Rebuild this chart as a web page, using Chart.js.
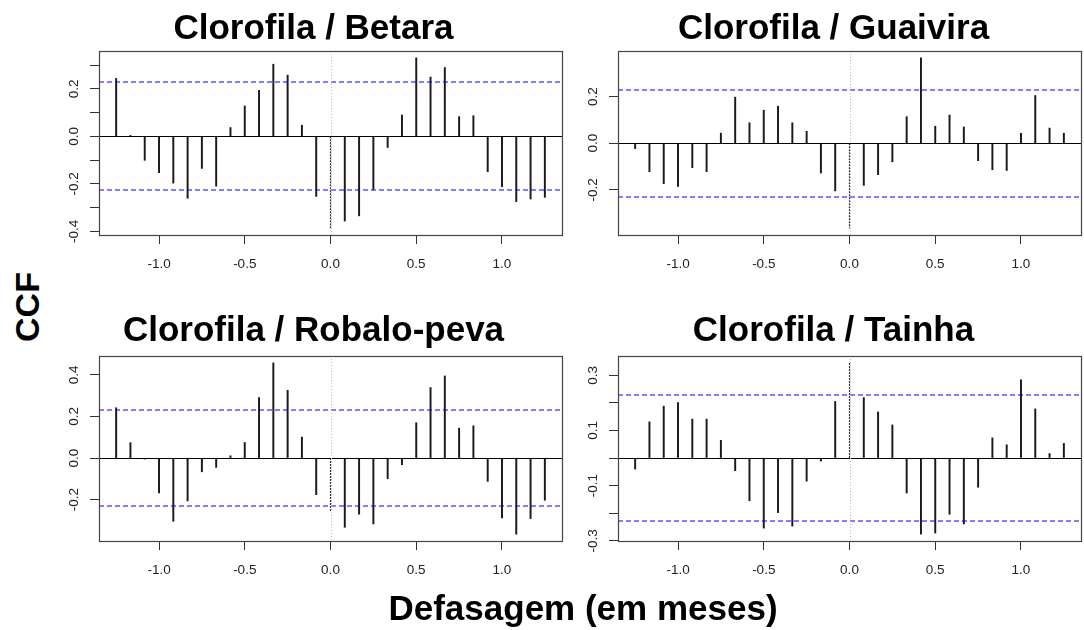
<!DOCTYPE html>
<html>
<head>
<meta charset="utf-8">
<script src="https://cdn.jsdelivr.net/npm/chart.js@4.4.1/dist/chart.umd.min.js"></script>
<style>
  body { margin: 0; background: #fff; width: 1084px; height: 630px; position: relative; overflow: hidden;
         font-family: "Liberation Sans", Arial, sans-serif; }
  canvas { position: absolute; }
  .axlab { position: absolute; font-weight: bold; font-size: 34px; color: #000; white-space: nowrap; }
  #ylab { left: 27px; top: 307px; transform: translate(-50%, -50%) rotate(-90deg); }
  #xlab { left: 583px; top: 608px; transform: translate(-50%, -50%); font-size: 35px; }
</style>
</head>
<body>
<canvas id="betaraChart" width="500" height="290" style="left:65px;top:0px"></canvas>
<canvas id="guaiviraChart" width="498" height="290" style="left:586px;top:0px"></canvas>
<canvas id="robaloChart" width="500" height="290" style="left:65px;top:302px"></canvas>
<canvas id="tainhaChart" width="498" height="290" style="left:586px;top:302px"></canvas>
<div id="ylab" class="axlab">CCF</div>
<div id="xlab" class="axlab">Defasagem (em meses)</div>
<script>
// lag in months, plotted in years (lag / 12)
const lagMonths = [-15, -14, -13, -12, -11, -10, -9, -8, -7, -6, -5, -4, -3, -2, -1, 0,
                   1, 2, 3, 4, 5, 6, 7, 8, 9, 10, 11, 12, 13, 14, 15];

const betara = [0.244, 0.004, -0.101, -0.153, -0.197, -0.261, -0.135, -0.210, 0.037, 0.128, 0.194, 0.304, 0.258, 0.047, -0.253, -0.387,
                -0.357, -0.335, -0.224, -0.047, 0.090, 0.331, 0.250, 0.290, 0.083, 0.087, -0.149, -0.212, -0.275, -0.264, -0.257];
const guaivira = [-0.023, -0.122, -0.174, -0.186, -0.105, -0.122, 0.043, 0.198, 0.088, 0.142, 0.159, 0.088, 0.051, -0.128, -0.205, -0.365,
                  -0.181, -0.135, -0.080, 0.114, 0.367, 0.073, 0.121, 0.070, -0.075, -0.114, -0.117, 0.043, 0.205, 0.065, 0.043];
const robalo = [0.242, 0.074, -0.005, -0.168, -0.304, -0.206, -0.066, -0.045, 0.011, 0.075, 0.291, 0.458, 0.326, 0.101, -0.176, -0.256,
                -0.333, -0.270, -0.317, -0.099, -0.032, 0.170, 0.339, 0.395, 0.144, 0.155, -0.112, -0.288, -0.366, -0.291, -0.203];
const tainha = [-0.040, 0.131, 0.188, 0.201, 0.141, 0.141, 0.064, -0.046, -0.155, -0.254, -0.198, -0.247, -0.084, -0.011, 0.205, 0.345,
                0.219, 0.167, 0.120, -0.127, -0.276, -0.272, -0.204, -0.239, -0.106, 0.073, 0.048, 0.283, 0.178, 0.016, 0.053];

// confidence bounds (blue dashed)
const ciBetara = 0.228;
const ciGuaivira = 0.230;
const ciRobalo = 0.229;
const ciTainha = 0.230;

const xTicks = [-1, -0.5, 0, 0.5, 1];
const xTickLabels = ['-1.0', '-0.5', '0.0', '0.5', '1.0'];

const betaraYTicks = [-0.4, -0.3, -0.2, -0.1, 0, 0.1, 0.2, 0.3];
const betaraYLabels = ['-0.4', '', '-0.2', '', '0.0', '', '0.2', ''];
const guaiviraYTicks = [-0.2, 0, 0.2];
const guaiviraYLabels = ['-0.2', '0.0', '0.2'];
const robaloYTicks = [-0.2, 0, 0.2, 0.4];
const robaloYLabels = ['-0.2', '0.0', '0.2', '0.4'];
const tainhaYTicks = [-0.3, -0.2, -0.1, 0, 0.1, 0.2, 0.3];
const tainhaYLabels = ['-0.3', '', '-0.1', '', '0.1', '', '0.3'];

const FONT = '"Liberation Sans", Arial, sans-serif';

// R-style range: data and bounds, widened 4%
function rRange(vals) {
    const lo = Math.min(...vals), hi = Math.max(...vals);
    const d = (hi - lo) * 0.04;
    return [lo - d, hi + d];
}

const ccfDecor = {
    id: 'ccfDecor',
    afterDatasetsDraw(chart, args, opts) {
        const { ctx, chartArea: a, scales: { x, y } } = chart;
        ctx.save();
        ctx.lineWidth = 1;
        // zero line
        ctx.strokeStyle = '#000000';
        ctx.setLineDash([]);
        const y0 = Math.round(y.getPixelForValue(0)) + 0.5;
        ctx.beginPath(); ctx.moveTo(a.left, y0); ctx.lineTo(a.right, y0); ctx.stroke();
        // confidence bounds
        ctx.strokeStyle = '#0000ff';
        ctx.lineWidth = 1.2;
        ctx.setLineDash([5, 3]);
        ctx.beginPath();
        [opts.ci, -opts.ci].forEach(c => {
            const yc = Math.round(y.getPixelForValue(c));
            ctx.moveTo(a.left, yc); ctx.lineTo(a.right, yc);
        });
        ctx.stroke();
        // dotted line at lag 0
        ctx.beginPath();
        ctx.lineWidth = 1;
        ctx.strokeStyle = '#bdbdbd';
        ctx.setLineDash([1, 2]);
        const x0 = Math.round(x.getPixelForValue(0)) + 0.5;
        ctx.moveTo(x0, a.top); ctx.lineTo(x0, a.bottom); ctx.stroke();
        // box
        ctx.setLineDash([]);
        ctx.strokeStyle = '#444444';
        ctx.lineWidth = 1.2;
        ctx.strokeRect(Math.round(a.left) + 0.5, Math.round(a.top) + 0.5,
                       Math.round(a.right - a.left), Math.round(a.bottom - a.top));
        ctx.restore();
    }
};

function makeCcf(id, title, vals, ci, yTicks, yLabels, yWidth, row) {
    const xs = lagMonths.map(m => m / 12);
    const xr = rRange(xs);
    const yr = rRange(vals.concat([ci, -ci]));
    const i0 = lagMonths.indexOf(0);
    const bars = [];
    lagMonths.forEach((m, i) => { if (m !== 0) bars.push({ x: m / 12, y: vals[i] }); });

    return new Chart(document.getElementById(id).getContext('2d'), {
        type: 'bar',
        data: {
            datasets: [
            {
                data: bars,
                backgroundColor: '#1a1a1a',
                barThickness: 1.3,
                borderWidth: 0
            },
            {
                type: 'line',
                data: [{ x: 0, y: 0 }, { x: 0, y: vals[i0] }],
                borderColor: '#333',
                borderWidth: 1.2,
                borderDash: [2, 1],
                pointRadius: 0
            }
            ]
        },
        options: {
            responsive: false,
            animation: false,
            devicePixelRatio: 1,
            layout: { padding: { left: 0, right: 3, top: 0, bottom: 0 } },
            plugins: {
                legend: { display: false },
                tooltip: { enabled: false },
                title: {
                    display: true,
                    text: title,
                    color: '#000',
                    font: { family: FONT, size: 35, weight: 'bold', lineHeight: 1.2 },
                    padding: row === 0 ? { top: 8, bottom: 1 } : { top: 8, bottom: 4 }
                },
                ccfDecor: { ci: ci }
            },
            scales: {
                x: {
                    type: 'linear',
                    offset: false,
                    min: xr[0],
                    max: xr[1],
                    border: { display: false },
                    grid: { display: true, offset: false, drawOnChartArea: false, drawTicks: true, tickLength: 9, tickColor: '#333' },
                    afterBuildTicks: s => { s.ticks = xTicks.map(v => ({ value: v })); },
                    afterFit: s => { s.height = row === 0 ? 55 : 51; },
                    ticks: {
                        autoSkip: false,
                        maxRotation: 0,
                        padding: 12,
                        color: '#222',
                        font: { family: FONT, size: 13.5 },
                        callback: (v, i) => xTickLabels[i]
                    }
                },
                y: {
                    min: yr[0],
                    max: yr[1],
                    border: { display: false },
                    grid: { display: true, drawOnChartArea: false, drawTicks: true, tickLength: 9, tickColor: '#333' },
                    afterBuildTicks: s => { s.ticks = yTicks.map(v => ({ value: v })); },
                    afterFit: s => { s.width = yWidth; },
                    ticks: {
                        autoSkip: false,
                        minRotation: 90,
                        maxRotation: 90,
                        crossAlign: 'center',
                        padding: 4,
                        color: '#222',
                        font: { family: FONT, size: 13.5 },
                        callback: (v, i) => yLabels[i]
                    }
                }
            }
        },
        plugins: [ccfDecor]
    });
}

const betaraChart = makeCcf('betaraChart', 'Clorofila / Betara', betara, ciBetara, betaraYTicks, betaraYLabels, 34, 0);
const guaiviraChart = makeCcf('guaiviraChart', 'Clorofila / Guaivira', guaivira, ciGuaivira, guaiviraYTicks, guaiviraYLabels, 32, 0);
const robaloChart = makeCcf('robaloChart', 'Clorofila / Robalo-peva', robalo, ciRobalo, robaloYTicks, robaloYLabels, 34, 1);
const tainhaChart = makeCcf('tainhaChart', 'Clorofila / Tainha', tainha, ciTainha, tainhaYTicks, tainhaYLabels, 32, 1);
</script>
</body>
</html>
